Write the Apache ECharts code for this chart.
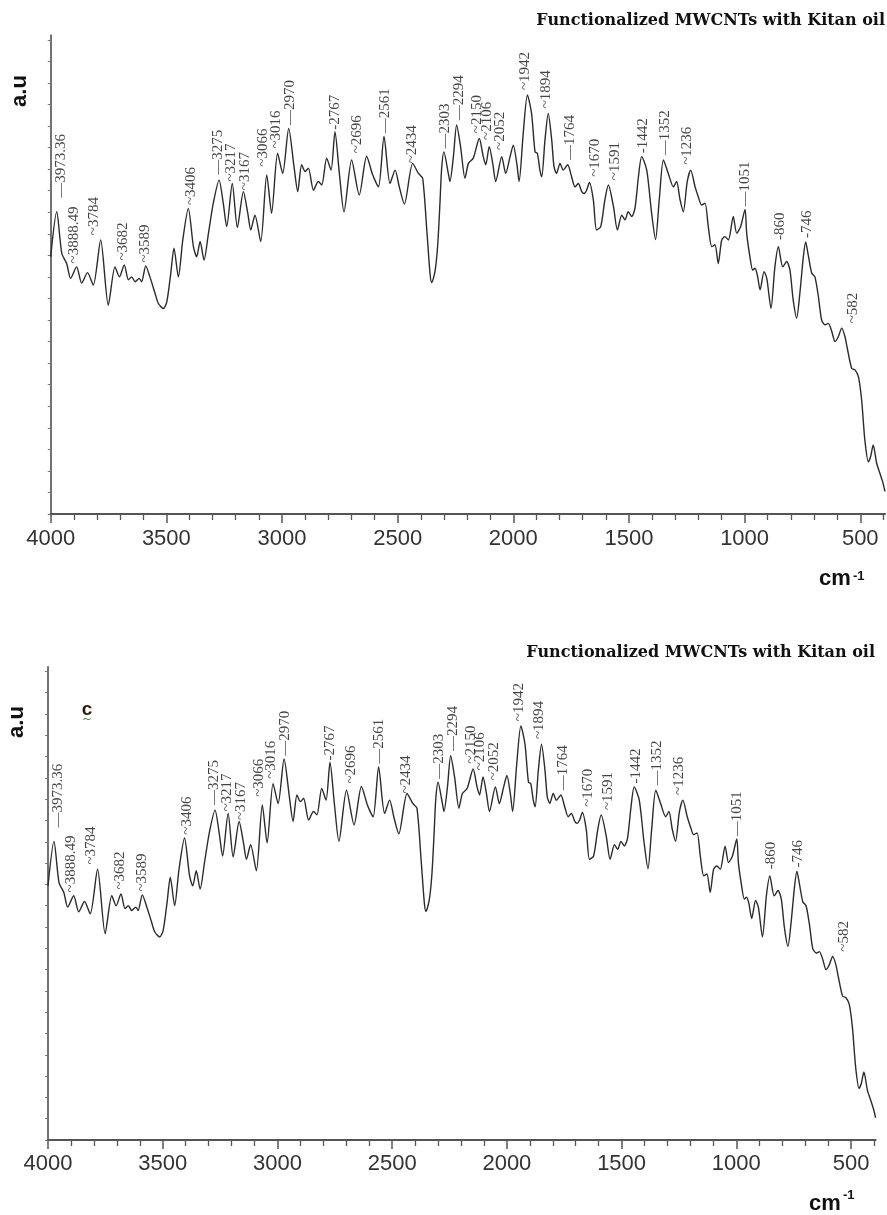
<!DOCTYPE html>
<html><head><meta charset="utf-8">
<script src="https://cdn.jsdelivr.net/npm/echarts@6/dist/echarts.min.js"></script>
<style>html,body{margin:0;padding:0;background:#fff}#c{width:887px;height:1215px}</style>
</head><body><div id="c"></div>
<script>
const wavenumber = [4000,3974,3952,3931,3914,3888,3866,3841,3816,3784,3751,3722,3703,3682,3664,3650,3635,3617,3607,3589,3571,3549,3535,3513,3498,3481,3467,3448,3429,3405,3383,3369,3354,3337,3318,3297,3272,3254,3239,3215,3193,3167,3148,3135,3117,3092,3066,3045,3019,2997,2971,2948,2932,2915,2900,2886,2864,2843,2828,2807,2788,2771,2752,2732,2699,2666,2634,2608,2583,2559,2533,2511,2493,2471,2435,2410,2392,2374,2360,2353,2339,2327,2317,2310,2300,2281,2274,2259,2245,2228,2209,2194,2173,2147,2130,2119,2104,2089,2076,2050,2033,2014,2000,1985,1975,1957,1939,1921,1906,1896,1885,1877,1863,1849,1834,1824,1813,1798,1784,1765,1748,1733,1719,1704,1694,1683,1671,1654,1640,1622,1604,1589,1567,1550,1531,1517,1503,1488,1474,1459,1445,1423,1402,1385,1369,1351,1330,1308,1294,1279,1265,1248,1233,1214,1200,1186,1171,1157,1142,1128,1114,1099,1085,1070,1049,1034,1017,998,991,977,965,955,945,933,916,904,886,869,854,835,818,804,790,775,761,746,736,725,710,696,681,667,652,638,623,609,595,580,566,556,537,523,508,494,480,465,455,444,429,415,403,393];
const intensity = [53.7,63.1,54.4,52.3,49.2,51.6,48.2,50.4,47.8,57.2,43.6,51.6,49.5,52.0,48.9,49.5,48.5,49.2,48.5,51.8,49.5,46.1,44.0,42.9,44.3,50.2,55.5,49.5,57.2,63.8,55.8,53.7,56.9,53.0,58.6,64.9,69.7,64.9,60.0,69.0,59.8,67.3,62.8,59.3,62.4,56.9,70.8,62.8,75.3,71.1,80.5,72.5,67.3,72.9,71.5,72.2,67.6,69.4,68.7,74.3,71.8,79.8,71.1,63.1,73.9,66.6,74.7,70.8,68.3,78.8,69.0,71.8,68.3,64.7,73.2,71.1,70.1,59.3,50.2,48.3,50.5,56,65,72,75.6,71.1,69.4,74.6,81.2,76.7,70.1,73.2,74.3,78.4,74.6,72.9,76.7,73.2,69.4,74.6,71.1,74.6,77.0,73.2,69.4,79.5,87.5,83.6,75.6,75.3,71.8,70.4,78.1,83.6,78.1,72.5,71.1,73.2,71.8,72.9,70.4,68.3,69.0,67.3,66.9,67.6,69.2,65.6,59.3,60.0,65.6,68.7,64.2,59.3,62.4,61.4,63.1,62.1,63.8,70.4,74.6,71.8,62.8,57.3,65.6,73.9,71.1,68.3,69.4,65.6,63.1,69.4,71.8,68.3,66.2,64.5,64.9,60.0,55.8,56.2,52.3,57.2,57.9,57.2,62.1,58.6,60.0,63.6,58.6,53.7,50.9,51.3,49.9,46.8,50.6,49.2,42.9,51.6,55.8,51.6,52.7,50.9,44.7,40.9,46.1,53.7,56.8,54.1,50.3,49.5,45.4,40.5,39.5,39.8,38.1,36.0,37.0,38.8,37.0,34.6,30.4,30.1,28.7,23.8,15.4,10.9,12.0,14.4,10.6,8.5,6.7,4.7];

const peakText = ['—3973.36','~3888.49','~3784','~3682','~3589','~3406','—3275','~3217','~3167','~3066','~3016','—2970','-2767','~2696','—2561','~2434','—2303','—2294','~2150','~2106','~2052','~1942','~1894','—1764','~1670','~1591','-1442','—1352','~1236','—1051','-860','-746','~582'];
const peakX = [3954,3899,3811,3686,3592,3395,3275,3220,3160,3081,3026,2965,2771,2677,2555,2439,2295,2233,2158,2115,2057,1949,1859,1755,1647,1560,1438,1344,1250,998,847,732,532];
const peakY = [66.0,52.3,58.2,52.9,52.5,64.5,70.8,69.4,67.6,72.5,76.3,81.2,80.2,75.3,79.5,73.2,76.3,82.2,79.5,78.1,76.0,88.5,84.7,73.9,70.4,69.7,75.3,74.9,72.9,64.2,57.2,57.6,39.8];

const xMajorTicks = [4000,3500,3000,2500,2000,1500,1000,500];
const xMinorTicks = [3900,3800,3700,3600,3400,3300,3200,3100,2900,2800,2700,2600,2400,2300,2200,2100,1900,1800,1700,1600,1400,1300,1200,1100,900,800,700,600,400];
const yTicks = [0,4.5,9,13.5,18,22.5,27,31.5,36,40.5,45,49.5,54,58.5,63,67.5,72,76.5,81,85.5,90,94.5,99];

const titleText = 'Functionalized MWCNTs with Kitan oil';
const yName = 'a.u';
const xUnit = 'cm';
const xUnitSup = '-1';
const panelTag = 'c';

const chart = echarts.init(document.getElementById('c'), null, {renderer:'canvas'});

const panels = [
  {grid:{left:50.7, top:35, width:834.3, height:479}, labelMargin:14},
  {grid:{left:48, top:666.7, width:827.6, height:473.3}, labelMargin:13}
];

const grids = [], xAxes = [], yAxes = [], series = [];
const lineData = wavenumber.map((w,i)=>[w, intensity[i]]);
const labelData = peakText.map((t,i)=>({name:t, value:[peakX[i], peakY[i]]}));

panels.forEach((p, k) => {
  const gMain = grids.length;
  grids.push(Object.assign({containLabel:false}, p.grid));
  grids.push(Object.assign({containLabel:false}, p.grid));
  xAxes.push({
    gridIndex:gMain, type:'value', min:393, max:4000, inverse:true,
    axisLine:{show:true, lineStyle:{color:'#555', width:2}},
    axisTick:{show:true, customValues:xMajorTicks, length:9, lineStyle:{color:'#555', width:1.5}},
    axisLabel:{show:true, customValues:xMajorTicks, margin:p.labelMargin, fontSize:22, fontFamily:'Liberation Sans', color:'#333',
      formatter:(v)=>String(v)},
    splitLine:{show:false}
  });
  xAxes.push({
    gridIndex:gMain+1, type:'value', min:393, max:4000, inverse:true,
    axisLine:{show:false},
    axisTick:{show:true, customValues:xMinorTicks, length:6, lineStyle:{color:'#555', width:1.3}},
    axisLabel:{show:false}, splitLine:{show:false}
  });
  yAxes.push({
    gridIndex:gMain, type:'value', min:0, max:100,
    axisLine:{show:true, lineStyle:{color:'#444', width:1.5}},
    axisTick:{show:true, customValues:yTicks, length:3, lineStyle:{color:'#777', width:1}},
    axisLabel:{show:false}, splitLine:{show:false}
  });
  yAxes.push({gridIndex:gMain+1, type:'value', min:0, max:100, show:false});
  series.push({
    type:'line', xAxisIndex:gMain, yAxisIndex:gMain, data:lineData,
    showSymbol:false, smooth:0.25, lineStyle:{color:'#2b2b2b', width:1.4}, silent:true, animation:false
  });
  series.push({
    type:'scatter', xAxisIndex:gMain, yAxisIndex:gMain, data:labelData,
    symbolSize:1, itemStyle:{color:'rgba(0,0,0,0)'}, silent:true, animation:false,
    label:{show:true, position:'inside', rotate:90, align:'left', verticalAlign:'middle', formatter:'{b}',
      fontFamily:'Liberation Serif', fontSize:15, color:'#151515'}
  });
});

const graphic = [
  {type:'text', x:885, y:21, style:{text:titleText, font:'bold 16px "DejaVu Serif"', fill:'#111', align:'right', verticalAlign:'middle'}},
  {type:'text', x:875, y:653, style:{text:titleText, font:'bold 16px "DejaVu Serif"', fill:'#111', align:'right', verticalAlign:'middle'}},
  {type:'text', x:19.5, y:91, rotation:Math.PI/2, style:{text:yName, font:'bold 22px "Liberation Sans"', fill:'#111', align:'center', verticalAlign:'middle'}},
  {type:'text', x:17, y:722, rotation:Math.PI/2, style:{text:yName, font:'bold 22px "Liberation Sans"', fill:'#111', align:'center', verticalAlign:'middle'}},
  {type:'text', x:819, y:579, style:{text:xUnit, font:'bold 22px "Liberation Sans"', fill:'#111', align:'left', verticalAlign:'middle'}},
  {type:'text', x:853, y:576, style:{text:xUnitSup, font:'bold 13px "Liberation Sans"', fill:'#111', align:'left', verticalAlign:'middle'}},
  {type:'text', x:809, y:1204, style:{text:xUnit, font:'bold 22px "Liberation Sans"', fill:'#111', align:'left', verticalAlign:'middle'}},
  {type:'text', x:843, y:1195, style:{text:xUnitSup, font:'bold 13px "Liberation Sans"', fill:'#111', align:'left', verticalAlign:'middle'}},
  {type:'text', x:87, y:710, style:{text:panelTag, font:'bold 19px "Liberation Sans"', fill:'#2a1a05', align:'center', verticalAlign:'middle'}},
  {type:'text', x:87, y:720, style:{text:'~', font:'12px "DejaVu Sans"', fill:'#3c9a3c', align:'center', verticalAlign:'middle'}}
];

chart.setOption({
  animation:false,
  backgroundColor:'#fff',
  grid:grids, xAxis:xAxes, yAxis:yAxes, series:series, graphic:graphic
});
</script></body></html>
